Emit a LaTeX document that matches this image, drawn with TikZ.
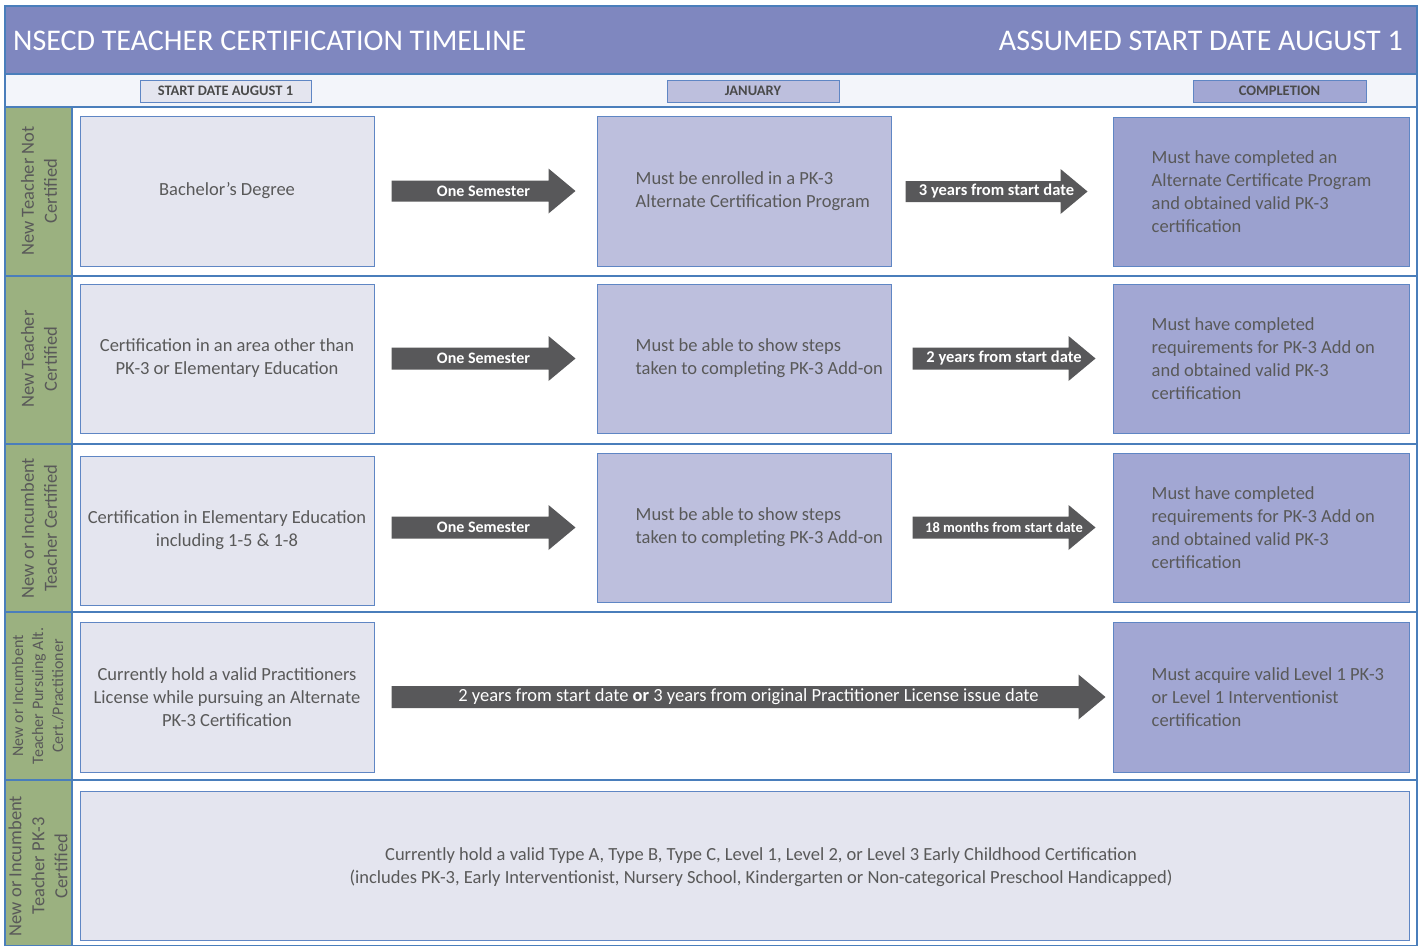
\documentclass[tikz,border=0pt]{standalone}
\usepackage{fontspec}
\setmainfont{Carlito}
\usetikzlibrary{calc}
\definecolor{titlebg}{HTML}{7F87BF}
\definecolor{stripbg}{HTML}{F3F5FA}
\definecolor{greenc}{HTML}{9BB180}
\definecolor{sepc}{HTML}{4A7EBB}
\definecolor{bordc}{HTML}{5F86C4}
\definecolor{lfill}{HTML}{E4E5EF}
\definecolor{mfill}{HTML}{BDBFDD}
\definecolor{rfill}{HTML}{A2A7D3}
\definecolor{rfilla}{HTML}{9BA1CF}
\definecolor{arrowc}{HTML}{58585A}
\definecolor{txt}{HTML}{595959}
\definecolor{htxt}{HTML}{4A4A4A}
\newcommand\bodyfont{\fontsize{18.5}{23}\selectfont}
\newcommand\barrow[8]{%
 \coordinate (#6s) at ($(#1.east |- #2.west)+(#3,0)$);
 \coordinate (#6e) at ($(#2.west)-(#4,0)$);
 \fill[arrowc] ($(#6s)+(0,-#5)$) -- ($(#6e)+(-27,-#5)$) -- ($(#6e)+(-27,-22.5)$) -- (#6e) -- ($(#6e)+(-27,22.5)$) -- ($(#6e)+(-27,#5)$) -- ($(#6s)+(0,#5)$) -- cycle;
 \node[font=#7, text=white, inner sep=0pt] (#6) at ($(#6s)!0.5!(#6e)$) {#8};
}
\begin{document}
\begin{tikzpicture}[x=1pt,y=-1pt,
  box/.style={draw=bordc, line width=1pt, minimum width=294pt, minimum height=150pt, text=txt, align=center, font=\bodyfont, inner sep=0pt},
  lbox/.style={box, fill=lfill},
  mbox/.style={box, fill=mfill},
  rbox/.style={box, fill=rfill, minimum width=296pt},
  btext/.style={anchor=west, align=left, text=txt, font=\bodyfont, inner sep=0pt},
  vlabel/.style={rotate=90, align=center, text=txt, font=\bodyfont, inner sep=0pt},
  hdr/.style={draw=bordc, line width=1pt, minimum height=22pt, text=htxt, font=\fontsize{14.5}{16}\selectfont\bfseries, inner sep=0pt},
  sep/.style={draw=sepc, line width=1.2pt}]
\useasboundingbox (0,0) rectangle (1422,946);
\fill[white] (0,0) rectangle (1422,946);
% title bar and strip
\fill[titlebg] (5,6) rectangle (1417,74);
\fill[stripbg] (5,74) rectangle (1417,107);
\fill[greenc] (5,107) rectangle (72,946);
\node[anchor=west, text=white, inner sep=0pt, font=\fontsize{30}{34}\selectfont] (title) at (13,41) {NSECD TEACHER CERTIFICATION TIMELINE};
\node[anchor=east, text=white, inner sep=0pt, font=\fontsize{30}{34}\selectfont] (title2) at (1403,41) {ASSUMED START DATE AUGUST 1};
\node[hdr, fill=lfill, minimum width=171pt] (h1) at (225.5,91) {START DATE AUGUST 1};
\node[hdr, fill=mfill, minimum width=172pt] (h2) at (753,91) {JANUARY};
\node[hdr, fill=rfill, minimum width=173pt] (h3) at (1279.5,91) {COMPLETION};
% separators and frame
\foreach \yy in {74,107,276,444,612,780} {\draw[sep] (5,\yy) -- (1417,\yy);}
\draw[sep] (72,107) -- (72,946);
\draw[sep] (5,6) rectangle (1417,945.5);
% vertical labels
\node[vlabel] (g1) at (39,191) {New Teacher Not\\Certified};
\node[vlabel] (g2) at (39,359) {New Teacher\\Certified};
\node[vlabel] (g3) at (39,528) {New or Incumbent\\Teacher Certified};
\node[vlabel, font=\fontsize{16}{20}\selectfont] (g4) at (38,696) {New or Incumbent\\Teacher Pursuing Alt.\\Cert./Practitioner};
\node[vlabel] (g5) at (38,866) {New or Incumbent\\Teacher PK-3\\Certified};
% row 1
\node[lbox] (l1) at (227,191) {Bachelor’s Degree};
\node[mbox] (m1) at (744,191) {};
\node[btext] (m1t) at ($(m1.west)+(39,0)$) {Must be enrolled in a PK-3\\Alternate Certification Program};
\node[rbox, fill=rfilla, minimum height=149pt] (r1) at (1261,191.5) {};
\node[btext] (r1t) at ($(r1.west)+(39,0)$) {Must have completed an\\Alternate Certificate Program\\and obtained valid PK-3\\certification};
\barrow{l1}{m1}{17}{21}{10.5}{a1}{\fontsize{16}{18}\selectfont\bfseries}{One Semester}
\barrow{m1}{r1}{14}{25}{10.5}{a2}{\fontsize{16.5}{18}\selectfont\bfseries}{3 years from start date}
% row 2
\node[lbox, minimum height=149pt] (l2) at (227,358.5) {Certification in an area other than\\PK-3 or Elementary Education};
\node[mbox, minimum height=149pt] (m2) at (744,358.5) {};
\node[btext] (m2t) at ($(m2.west)+(39,0)$) {Must be able to show steps\\taken to completing PK-3 Add-on};
\node[rbox, minimum height=149pt] (r2) at (1261,358.5) {};
\node[btext] (r2t) at ($(r2.west)+(39,0)$) {Must have completed\\requirements for PK-3 Add on\\and obtained valid PK-3\\certification};
\barrow{l2}{m2}{17}{21}{11}{a3}{\fontsize{16}{18}\selectfont\bfseries}{One Semester}
\barrow{m2}{r2}{21}{17}{11}{a4}{\fontsize{16.5}{18}\selectfont\bfseries}{2 years from start date}
% row 3
\node[lbox, minimum height=149pt] (l3) at (227,530.5) {Certification in Elementary Education\\including 1-5 \& 1-8};
\node[mbox, minimum height=149pt] (m3) at (744,527.5) {};
\node[btext] (m3t) at ($(m3.west)+(39,0)$) {Must be able to show steps\\taken to completing PK-3 Add-on};
\node[rbox, minimum height=149pt] (r3) at (1261,527.5) {};
\node[btext] (r3t) at ($(r3.west)+(39,0)$) {Must have completed\\requirements for PK-3 Add on\\and obtained valid PK-3\\certification};
\barrow{l3}{m3}{17}{21}{11}{a5}{\fontsize{16}{18}\selectfont\bfseries}{One Semester}
\barrow{m3}{r3}{21}{17}{11}{a6}{\fontsize{14.5}{16}\selectfont\bfseries}{18 months from start date}
% row 4
\node[lbox] (l4) at (227,697) {Currently hold a valid Practitioners\\License while pursuing an Alternate\\PK-3 Certification};
\node[rbox] (r4) at (1261,697) {};
\node[btext] (r4t) at ($(r4.west)+(39,0)$) {Must acquire valid Level 1 PK-3\\or Level 1 Interventionist\\certification};
\barrow{l4}{r4}{17}{7}{11}{a7}{\fontsize{18.5}{20}\selectfont}{2 years from start date \textbf{or} 3 years from original Practitioner License issue date}
% row 5
\node[lbox, minimum width=1329pt, minimum height=149pt] (b5) at (744.5,865.5) {};
\node[align=center, text=txt, font=\bodyfont, inner sep=0pt] (b5t) at (761,867) {Currently hold a valid Type A, Type B, Type C, Level 1, Level 2, or Level 3 Early Childhood Certification\\(includes PK-3, Early Interventionist, Nursery School, Kindergarten or Non-categorical Preschool Handicapped)};
\end{tikzpicture}
\end{document}
